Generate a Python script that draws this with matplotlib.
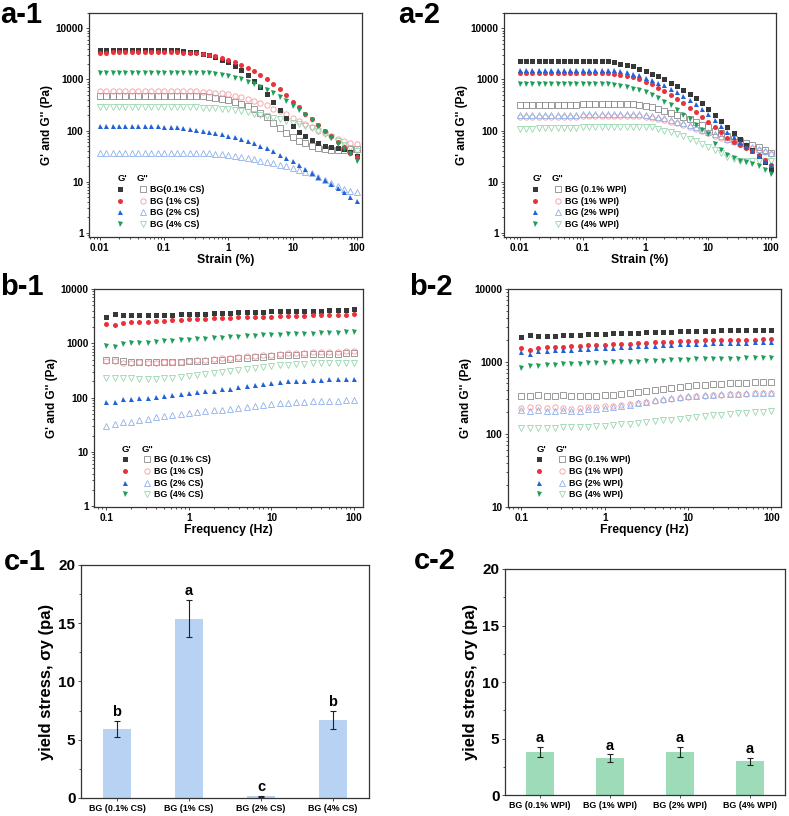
import numpy as np
import matplotlib
matplotlib.use("Agg")
import matplotlib.pyplot as plt
from matplotlib.legend_handler import HandlerTuple
from matplotlib.ticker import LogLocator, NullFormatter, FixedLocator, FixedFormatter, AutoMinorLocator

plt.rcParams['font.family'] = ['Liberation Sans', 'DejaVu Sans']
plt.rcParams['font.weight'] = 'bold'
plt.rcParams['axes.labelweight'] = 'bold'

# ---- data ----
strain = [0.01, 0.0126, 0.0158, 0.02, 0.0251, 0.0316, 0.0398, 0.0501, 0.0631, 0.0794,
          0.1, 0.126, 0.158, 0.2, 0.251, 0.316, 0.398, 0.501, 0.631, 0.794,
          1, 1.26, 1.58, 2, 2.51, 3.16, 3.98, 5.01, 6.31, 7.94,
          10, 12.6, 15.8, 20, 25.1, 31.6, 39.8, 50.1, 63.1, 79.4, 100]
freq = [0.1, 0.126, 0.158, 0.2, 0.251, 0.316, 0.398, 0.501, 0.631, 0.794,
        1, 1.26, 1.58, 2, 2.51, 3.16, 3.98, 5.01, 6.31, 7.94,
        10, 12.6, 15.8, 20, 25.1, 31.6, 39.8, 50.1, 63.1, 79.4, 100]

# a-1 strain sweep, CS
a1_gp_01 = [3800, 3850, 3850, 3850, 3850, 3850, 3850, 3850, 3850, 3800, 3800, 3750, 3700, 3600, 3500, 3400, 3200, 3000, 2750, 2450,
            2150, 1800, 1500, 1220, 950, 720, 530, 365, 255, 177, 125, 96, 77, 65, 56, 51, 48, 46, 44, 38, 32]
a1_gp_1 = [3300, 3350, 3400, 3400, 3400, 3400, 3400, 3400, 3400, 3400, 3400, 3400, 3400, 3350, 3300, 3250, 3150, 3000, 2850, 2650,
           2400, 2150, 1900, 1700, 1450, 1200, 1000, 810, 650, 500, 370, 285, 215, 165, 128, 100, 78, 60, 47, 37, 30]
a1_gp_2 = [125, 125, 125, 125, 125, 125, 125, 125, 125, 122, 120, 118, 116, 112, 108, 104, 100, 95, 90, 85,
           80, 74, 68, 62, 56, 50, 45, 39, 34, 29, 25, 21, 17.5, 14.8, 12.5, 10.6, 9, 7.6, 6.2, 5.1, 4.2]
a1_gp_4 = [1350, 1350, 1350, 1350, 1350, 1350, 1350, 1350, 1350, 1350, 1350, 1350, 1350, 1350, 1350, 1350, 1340, 1320, 1280, 1230,
           1160, 1080, 1000, 900, 800, 700, 610, 540, 460, 380, 300, 250, 200, 160, 125, 95, 72, 55, 44, 35, 26]
a1_gpp_01 = [470, 470, 470, 470, 470, 470, 470, 470, 470, 470, 470, 470, 470, 470, 470, 470, 465, 455, 440, 420,
             400, 370, 335, 300, 260, 220, 185, 140, 110, 88, 74, 63, 56, 50, 46, 44, 42, 42, 42, 43, 44]
a1_gpp_1 = [590, 590, 590, 590, 590, 590, 590, 590, 590, 590, 590, 590, 590, 590, 590, 590, 580, 570, 555, 535,
            510, 480, 455, 420, 385, 350, 310, 270, 240, 210, 180, 155, 135, 115, 100, 88, 77, 68, 62, 58, 55]
a1_gpp_2 = [37, 37, 37, 37, 37, 37, 37, 37, 37, 37, 37, 37, 37, 37, 37, 36.5, 36.5, 36, 35.5, 34.5,
            33, 32, 30.5, 29, 27.5, 26, 24.5, 23, 21.5, 20, 18.5, 17, 15.8, 14.5, 12.5, 10.8, 9.3, 8.2, 7.3, 6.7, 6.2]
a1_gpp_4 = [285, 285, 285, 285, 285, 285, 285, 285, 285, 285, 285, 285, 285, 285, 285, 285, 283, 280, 275, 270,
            262, 250, 240, 228, 215, 203, 190, 178, 165, 155, 143, 132, 122, 110, 98, 86, 74, 62, 52, 45, 40]

# a-2 strain sweep, WPI
a2_gp_01 = [2300, 2350, 2350, 2350, 2350, 2350, 2350, 2350, 2350, 2350, 2350, 2350, 2350, 2300, 2250, 2150, 2050, 1950, 1800, 1620,
            1450, 1300, 1150, 1000, 860, 740, 620, 520, 430, 340, 270, 205, 155, 118, 90, 68, 53, 41, 32, 24, 18]
a2_gp_1 = [1330, 1330, 1330, 1330, 1330, 1330, 1330, 1330, 1330, 1330, 1330, 1330, 1330, 1330, 1330, 1300, 1250, 1180, 1100, 1000,
           900, 800, 690, 590, 490, 410, 345, 280, 233, 185, 145, 115, 92, 73, 60, 52, 45, 39, 33, 27, 21]
a2_gp_2 = [1550, 1550, 1550, 1550, 1550, 1550, 1550, 1550, 1550, 1550, 1550, 1550, 1550, 1550, 1550, 1500, 1450, 1380, 1300, 1200,
           1080, 960, 860, 770, 660, 560, 470, 390, 330, 270, 215, 160, 125, 96, 76, 60, 48, 39, 32, 26, 21]
a2_gp_4 = [800, 800, 800, 800, 800, 800, 800, 800, 800, 800, 800, 800, 800, 800, 800, 780, 760, 720, 660, 610,
           560, 490, 430, 370, 310, 255, 205, 165, 130, 105, 85, 54, 42, 34, 29, 26, 24, 22, 20, 17, 14]
a2_gpp_01 = [320, 320, 320, 320, 320, 320, 320, 320, 320, 320, 330, 330, 330, 330, 330, 330, 330, 330, 325, 315,
             300, 285, 265, 245, 225, 205, 185, 165, 145, 130, 115, 100, 88, 78, 70, 64, 58, 53, 47, 41, 36]
a2_gpp_1 = [182, 182, 182, 182, 182, 182, 182, 182, 182, 182, 190, 190, 190, 190, 190, 190, 190, 190, 192, 190,
            185, 178, 170, 160, 150, 140, 128, 117, 107, 97, 88, 80, 72, 65, 60, 55, 50, 46, 42, 38, 35]
a2_gpp_2 = [200, 200, 200, 200, 200, 200, 200, 200, 200, 200, 210, 210, 210, 210, 210, 210, 210, 210, 212, 210,
            203, 195, 185, 175, 163, 150, 138, 126, 115, 105, 95, 86, 78, 70, 64, 58, 53, 48, 43, 39, 36]
a2_gpp_4 = [108, 108, 108, 110, 110, 110, 110, 112, 112, 112, 115, 115, 115, 115, 115, 115, 120, 120, 120, 120,
            120, 115, 108, 100, 92, 85, 78, 70, 62, 55, 48, 42, 36, 31, 28, 26, 25, 25, 26, 26, 25]

# b-1 frequency sweep, CS
b1_gp_01 = [3100, 3450, 3250, 3250, 3250, 3250, 3300, 3350, 3350, 3400, 3450, 3500, 3500, 3550, 3600, 3650, 3700, 3700, 3750, 3800,
            3850, 3850, 3900, 3900, 3950, 3950, 4000, 4050, 4100, 4150, 4200]
b1_gp_1 = [2300, 2200, 2400, 2450, 2500, 2500, 2550, 2600, 2650, 2700, 2750, 2800, 2850, 2900, 2900, 2950, 3000, 3000, 3050, 3100,
           3100, 3150, 3150, 3200, 3200, 3250, 3250, 3300, 3300, 3350, 3400]
b1_gp_2 = [82, 84, 93, 95, 98, 100, 104, 108, 112, 116, 120, 125, 130, 135, 141, 147, 155, 163, 170, 178,
           186, 192, 198, 202, 206, 210, 213, 216, 218, 220, 222]
b1_gp_4 = [900, 850, 980, 1000, 1010, 1030, 1060, 1080, 1100, 1130, 1160, 1190, 1210, 1240, 1270, 1300, 1320, 1350, 1380, 1400,
           1420, 1440, 1460, 1480, 1500, 1510, 1530, 1550, 1560, 1580, 1620]
b1_gpp_01 = [500, 490, 470, 460, 455, 450, 450, 450, 455, 460, 465, 470, 480, 490, 500, 510, 525, 540, 555, 570,
             585, 600, 610, 620, 625, 630, 635, 640, 645, 650, 655]
b1_gpp_1 = [480, 475, 440, 440, 445, 440, 440, 445, 450, 460, 470, 485, 500, 515, 530, 545, 560, 575, 590, 605,
            620, 635, 650, 660, 670, 680, 690, 700, 705, 715, 725]
b1_gpp_2 = [30, 33, 35, 36, 39, 41, 44, 46, 48, 50, 52, 54, 56, 58, 60, 62, 64, 66, 69, 72,
            75, 78, 80, 82, 84, 85, 86, 87, 88, 89, 90]
b1_gpp_4 = [225, 225, 232, 225, 220, 220, 222, 225, 232, 240, 248, 258, 268, 280, 292, 305, 318, 330, 345, 360,
            375, 390, 400, 410, 418, 425, 430, 432, 435, 438, 440]

# b-2 frequency sweep, WPI
b2_gp_01 = [2200, 2300, 2250, 2250, 2280, 2300, 2320, 2350, 2380, 2400, 2420, 2450, 2470, 2490, 2510, 2530, 2550, 2570, 2590, 2610,
            2630, 2650, 2660, 2670, 2680, 2690, 2700, 2710, 2720, 2730, 2740]
b2_gp_1 = [1550, 1450, 1550, 1570, 1590, 1610, 1630, 1650, 1670, 1690, 1710, 1730, 1750, 1770, 1790, 1810, 1830, 1850, 1870, 1890,
           1910, 1930, 1950, 1960, 1970, 1980, 1990, 2000, 2010, 2020, 2030]
b2_gp_2 = [1350, 1250, 1400, 1400, 1420, 1440, 1460, 1480, 1500, 1520, 1540, 1560, 1580, 1600, 1620, 1640, 1660, 1680, 1700, 1720,
           1740, 1760, 1770, 1780, 1790, 1800, 1810, 1820, 1830, 1840, 1850]
b2_gp_4 = [820, 870, 880, 890, 900, 910, 920, 930, 940, 950, 960, 970, 980, 990, 1000, 1010, 1020, 1030, 1040, 1050,
           1060, 1070, 1080, 1085, 1090, 1095, 1100, 1105, 1110, 1120, 1130]
b2_gpp_01 = [340, 340, 345, 340, 340, 345, 335, 340, 340, 340, 345, 350, 355, 365, 375, 390, 405, 420, 435, 450,
             460, 470, 480, 490, 495, 500, 505, 510, 515, 520, 525]
b2_gpp_1 = [230, 235, 235, 230, 235, 230, 225, 230, 235, 235, 240, 245, 250, 258, 266, 275, 285, 295, 305, 315,
            322, 330, 338, 345, 350, 355, 358, 362, 365, 368, 372]
b2_gpp_2 = [215, 205, 215, 210, 205, 215, 210, 210, 220, 225, 230, 238, 245, 255, 265, 278, 292, 305, 315, 322,
            330, 336, 342, 347, 352, 356, 360, 363, 366, 368, 370]
b2_gpp_4 = [120, 122, 122, 120, 123, 124, 125, 126, 127, 128, 130, 133, 136, 139, 142, 146, 150, 154, 158, 163,
            168, 173, 178, 182, 186, 190, 193, 196, 199, 202, 205]

# yield stress bars
cs_labels = ["BG (0.1% CS)", "BG (1% CS)", "BG (2% CS)", "BG (4% CS)"]
cs_yield = [5.9, 15.4, 0.15, 6.7]
cs_err = [0.7, 1.6, 0.05, 0.75]
cs_letters = ["b", "a", "c", "b"]
wpi_labels = ["BG (0.1% WPI)", "BG (1% WPI)", "BG (2% WPI)", "BG (4% WPI)"]
wpi_yield = [3.8, 3.25, 3.8, 3.0]
wpi_err = [0.45, 0.35, 0.45, 0.3]
wpi_letters = ["a", "a", "a", "a"]

a1_legend = ["BG(0.1% CS)", "BG (1% CS)", "BG (2% CS)", "BG (4% CS)"]
b1_legend = ["BG (0.1% CS)", "BG (1% CS)", "BG (2% CS)", "BG (4% CS)"]
wpi_legend = ["BG (0.1% WPI)", "BG (1% WPI)", "BG (2% WPI)", "BG (4% WPI)"]

# ---- style ----
markers = ['s', 'o', '^', 'v']
fill_cols = ['#383838', '#e8333c', '#1f63d6', '#1e9e58']
open_cols = ['#8a8a8a', '#f39a9f', '#8fb1ea', '#98d6ae']
spine_col = '#333333'


def style_frame(ax):
    for s in ax.spines.values():
        s.set_color(spine_col)
        s.set_linewidth(0.9)
    ax.tick_params(which='both', direction='out', top=False, right=False, color=spine_col, width=0.6)
    ax.tick_params(which='major', length=2.5)
    ax.tick_params(which='minor', length=1.5)


def rheo_panel(ax, x, gp, gpp, labels, xlim, ylim, xt, yt, xlabel):
    for k in range(4):
        ax.plot(x, gpp[k], ls='none', marker=markers[k], ms=3.8, mfc='none', mec=open_cols[k], mew=0.6)
    for k in range(4):
        ax.plot(x, gp[k], ls='none', marker=markers[k], ms=3.6, color=fill_cols[k], mew=0)
    ax.set_xscale('log')
    ax.set_yscale('log')
    ax.set_xlim(*xlim)
    ax.set_ylim(*ylim)
    ax.xaxis.set_major_locator(FixedLocator(xt))
    ax.xaxis.set_major_formatter(FixedFormatter([('%g' % v) for v in xt]))
    ax.yaxis.set_major_locator(FixedLocator(yt))
    ax.yaxis.set_major_formatter(FixedFormatter([('%d' % v) for v in yt]))
    ax.xaxis.set_minor_locator(LogLocator(base=10, subs=np.arange(2, 10)))
    ax.yaxis.set_minor_locator(LogLocator(base=10, subs=np.arange(2, 10)))
    ax.xaxis.set_minor_formatter(NullFormatter())
    ax.yaxis.set_minor_formatter(NullFormatter())
    style_frame(ax)
    ax.tick_params(labelsize=7.2, pad=1.5)
    ax.set_xlabel(xlabel, fontsize=8.8, labelpad=1)
    ax.set_ylabel("G' and G'' (Pa)", fontsize=8.5, labelpad=2)

    handles = []
    for k in range(4):
        h1, = ax.plot([], [], ls='none', marker=markers[k], ms=3.6, color=fill_cols[k], mew=0)
        h2, = ax.plot([], [], ls='none', marker=markers[k], ms=3.8, mfc='none', mec=open_cols[k], mew=0.6)
        handles.append((h1, h2))
    ax.legend(handles, labels, handler_map={tuple: HandlerTuple(ndivide=None, pad=1.4)},
              loc='lower left', bbox_to_anchor=(0.097, 0.035), frameon=False,
              prop={'size': 6.4, 'weight': 'bold'}, handlelength=3.6, handletextpad=0.25,
              labelspacing=0.3, borderpad=0, borderaxespad=0)
    ax.text(0.104, 0.243, "G'", transform=ax.transAxes, fontsize=6.8, fontweight='bold', va='bottom')
    ax.text(0.176, 0.243, 'G"', transform=ax.transAxes, fontsize=6.8, fontweight='bold', va='bottom')


def bar_panel(ax, labels, vals, errs, letters, color):
    pos = np.arange(len(vals))
    ax.bar(pos, vals, width=0.4, color=color)
    ax.errorbar(pos, vals, yerr=errs, fmt='none', ecolor='#222222', elinewidth=0.8, capsize=2.5, capthick=0.8)
    for p, v, e, t in zip(pos, vals, errs, letters):
        ax.text(p, v + e + 0.15, t, ha='center', va='bottom', fontsize=10.5, fontweight='bold')
    ax.set_xlim(-0.5, 3.5)
    ax.set_ylim(0, 20)
    ax.set_xticks(pos)
    ax.set_xticklabels(labels, fontsize=6.4, fontweight='bold')
    ax.set_yticks([0, 5, 10, 15, 20])
    ax.yaxis.set_minor_locator(AutoMinorLocator(2))
    style_frame(ax)
    ax.tick_params(axis='y', labelsize=11, pad=1.5)
    ax.tick_params(axis='x', pad=2)
    ax.set_ylabel("yield stress, σy (pa)", fontsize=12, labelpad=3)


fig = plt.figure(figsize=(7.89, 8.16), dpi=100)

ax_a1 = fig.add_axes([0.1128, 0.7096, 0.346, 0.2745])
rheo_panel(ax_a1, strain,
           [a1_gp_01, a1_gp_1, a1_gp_2, a1_gp_4], [a1_gpp_01, a1_gpp_1, a1_gpp_2, a1_gpp_4],
           a1_legend, (0.0068, 120), (0.83, 20000), [0.01, 0.1, 1, 10, 100], [1, 10, 100, 1000, 10000], 'Strain (%)')

ax_a2 = fig.add_axes([0.6388, 0.7096, 0.3447, 0.2745])
rheo_panel(ax_a2, strain,
           [a2_gp_01, a2_gp_1, a2_gp_2, a2_gp_4], [a2_gpp_01, a2_gpp_1, a2_gpp_2, a2_gpp_4],
           wpi_legend, (0.0056, 119), (0.83, 20000), [0.01, 0.1, 1, 10, 100], [1, 10, 100, 1000, 10000], 'Strain (%)')

ax_b1 = fig.add_axes([0.1191, 0.3787, 0.3409, 0.2672])
rheo_panel(ax_b1, freq,
           [b1_gp_01, b1_gp_1, b1_gp_2, b1_gp_4], [b1_gpp_01, b1_gpp_1, b1_gpp_2, b1_gpp_4],
           b1_legend, (0.071, 128), (0.97, 10000), [0.1, 1, 10, 100], [1, 10, 100, 1000, 10000], 'Frequency (Hz)')

ax_b2 = fig.add_axes([0.6439, 0.3787, 0.346, 0.2672])
rheo_panel(ax_b2, freq,
           [b2_gp_01, b2_gp_1, b2_gp_2, b2_gp_4], [b2_gpp_01, b2_gpp_1, b2_gpp_2, b2_gpp_4],
           wpi_legend, (0.069, 131), (9.9, 10000), [0.1, 1, 10, 100], [10, 100, 1000, 10000], 'Frequency (Hz)')

ax_c1 = fig.add_axes([0.1027, 0.0221, 0.365, 0.2855])
bar_panel(ax_c1, cs_labels, cs_yield, cs_err, cs_letters, '#b7d2f3')

ax_c2 = fig.add_axes([0.64, 0.0257, 0.3549, 0.277])
bar_panel(ax_c2, wpi_labels, wpi_yield, wpi_err, wpi_letters, '#9ddbb9')

for txt, x, y in [('a-1', 0.0, 0.972), ('a-2', 0.505, 0.972), ('b-1', 0.0, 0.638),
                  ('b-2', 0.518, 0.638), ('c-1', 0.005, 0.3015), ('c-2', 0.525, 0.303)]:
    fig.text(x, y, txt, fontsize=21, fontweight='bold', va='baseline', ha='left')

fig.savefig('out.png', dpi=100)
